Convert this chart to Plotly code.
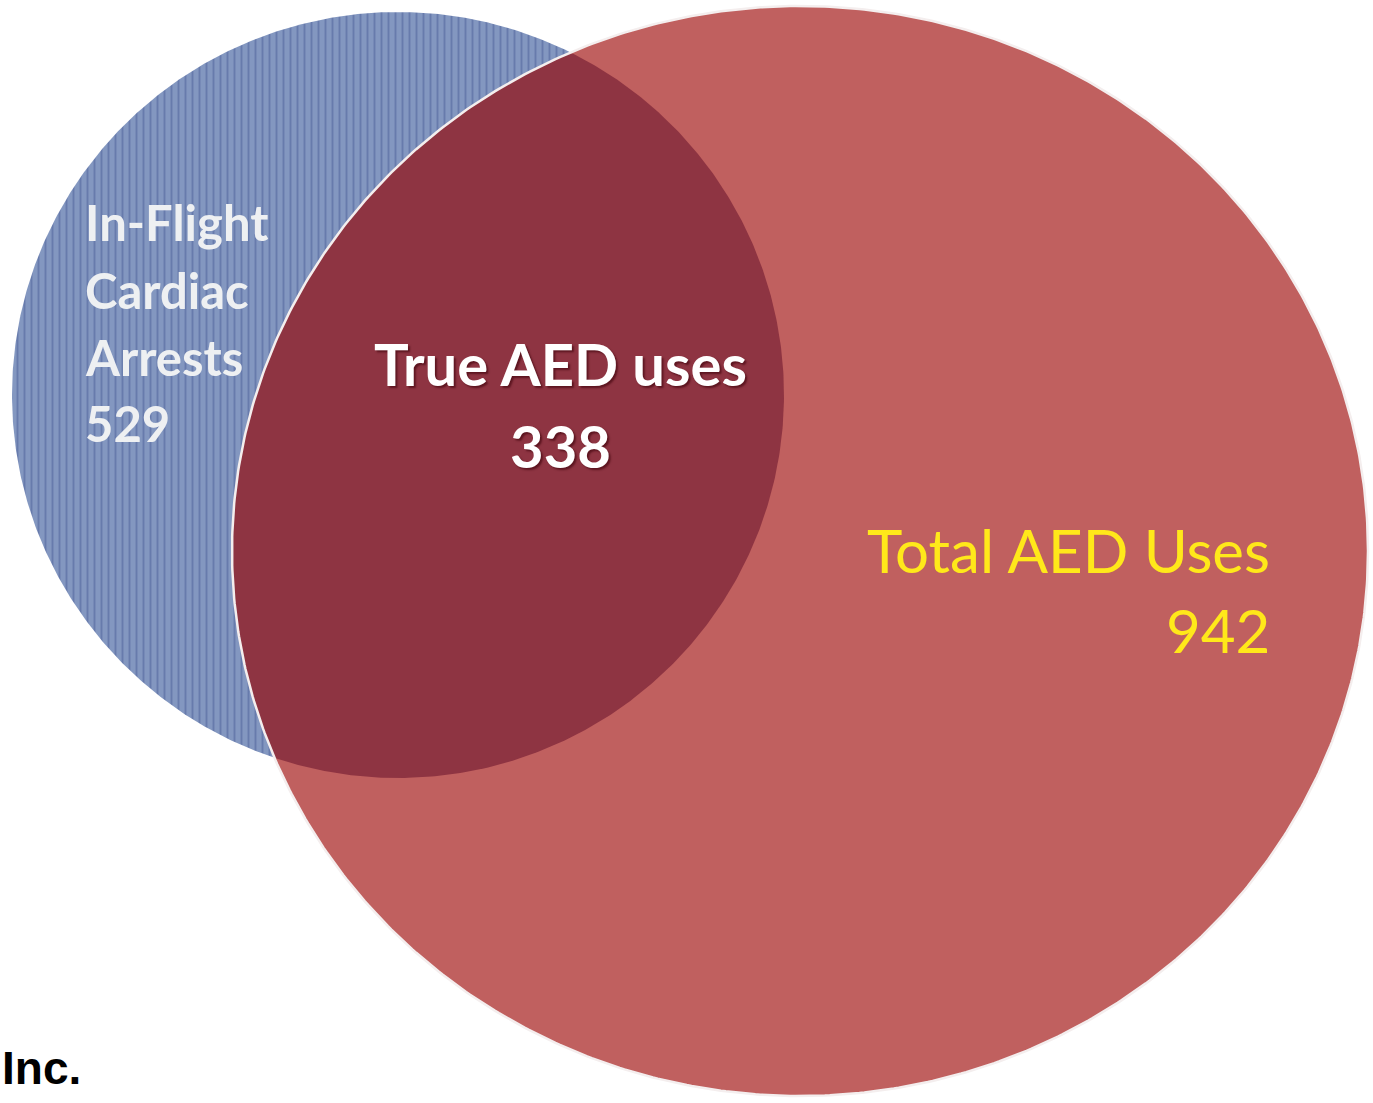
import numpy as np
import plotly.graph_objects as go

# ---- data ----
set_labels = ["In-Flight Cardiac Arrests", "Total AED Uses"]
set_values = [529, 942]
overlap_label = "True AED uses"
overlap_value = 338
blue_lines = ["In-Flight", "Cardiac", "Arrests", str(set_values[0])]
footer_text = "Inc."

# ---- geometry (layout constants, pixel space) ----
W, H = 1373, 1103
BLUE = dict(cx=398, cy=395, rx=386, ry=383)
RED = dict(cx=800, cy=551, rx=568, ry=545)

t = np.linspace(0, 2 * np.pi, 721)


def ellipse(g):
    return g["cx"] + g["rx"] * np.cos(t), g["cy"] + g["ry"] * np.sin(t)


def inside(g, x, y):
    return ((x - g["cx"]) / g["rx"]) ** 2 + ((y - g["cy"]) / g["ry"]) ** 2 <= 1.0


bx, by = ellipse(BLUE)
rx_, ry_ = ellipse(RED)

# lens (intersection) polygon
px = np.concatenate([bx[inside(RED, bx, by)], rx_[inside(BLUE, rx_, ry_)]])
py = np.concatenate([by[inside(RED, bx, by)], ry_[inside(BLUE, rx_, ry_)]])
mx, my = px.mean(), py.mean()
order = np.argsort(np.arctan2(py - my, px - mx))
lx = np.append(px[order], px[order][0])
ly = np.append(py[order], py[order][0])

fig = go.Figure()
fig.add_trace(go.Scatter(
    x=bx, y=by, mode="lines", fill="toself", line=dict(width=0, color="#7C90BA"),
    fillcolor="#8195BF",
    fillpattern=dict(shape="|", bgcolor="#8397C0", fgcolor="#4C6098", size=7, solidity=0.28),
    hoverinfo="skip", showlegend=False))
fig.add_trace(go.Scatter(
    x=rx_, y=ry_, mode="lines", fill="toself", line=dict(width=0),
    fillcolor="#C0605F", hoverinfo="skip", showlegend=False))
fig.add_trace(go.Scatter(
    x=lx, y=ly, mode="lines", fill="toself", line=dict(width=0),
    fillcolor="#8E3442", hoverinfo="skip", showlegend=False))
fig.add_trace(go.Scatter(
    x=rx_, y=ry_, mode="lines", line=dict(width=2.5, color="#F4EEEE"),
    hoverinfo="skip", showlegend=False))

ann = []
blue_y = [222, 290, 357, 423]
for txt, yy in zip(blue_lines, blue_y):
    ann.append(dict(x=83, y=yy, text=txt, xanchor="left", yanchor="middle", showarrow=False,
                    font=dict(family="Lato", size=49, color="#EEF0F2", weight="bold")))
ann.append(dict(x=560, y=363, text=overlap_label, xanchor="center", yanchor="middle", showarrow=False,
                font=dict(family="Lato", size=58, color="#FFFFFF", weight="bold",
                          shadow="2px 2px 2px rgba(60,0,10,0.6)")))
ann.append(dict(x=560, y=445, text=str(overlap_value), xanchor="center", yanchor="middle", showarrow=False,
                font=dict(family="Lato", size=58, color="#FFFFFF", weight="bold",
                          shadow="2px 2px 2px rgba(60,0,10,0.6)")))
ann.append(dict(x=1272, y=550, text=set_labels[1], xanchor="right", yanchor="middle", showarrow=False,
                font=dict(family="Lato", size=60, color="#FFE81A")))
ann.append(dict(x=1272, y=630, text=str(set_values[1]), xanchor="right", yanchor="middle", showarrow=False,
                font=dict(family="Lato", size=60, color="#FFE81A")))
ann.append(dict(x=0, y=1068, text=footer_text, xanchor="left", yanchor="middle", showarrow=False,
                font=dict(family="Liberation Sans", size=46, color="#000000", weight="bold")))

fig.update_layout(
    width=W, height=H, margin=dict(l=0, r=0, t=0, b=0),
    paper_bgcolor="white", plot_bgcolor="white",
    xaxis=dict(range=[0, W], visible=False, fixedrange=True),
    yaxis=dict(range=[H, 0], visible=False, fixedrange=True),
    annotations=ann, showlegend=False,
)
fig.write_html("out.html", config={"displayModeBar": False})
